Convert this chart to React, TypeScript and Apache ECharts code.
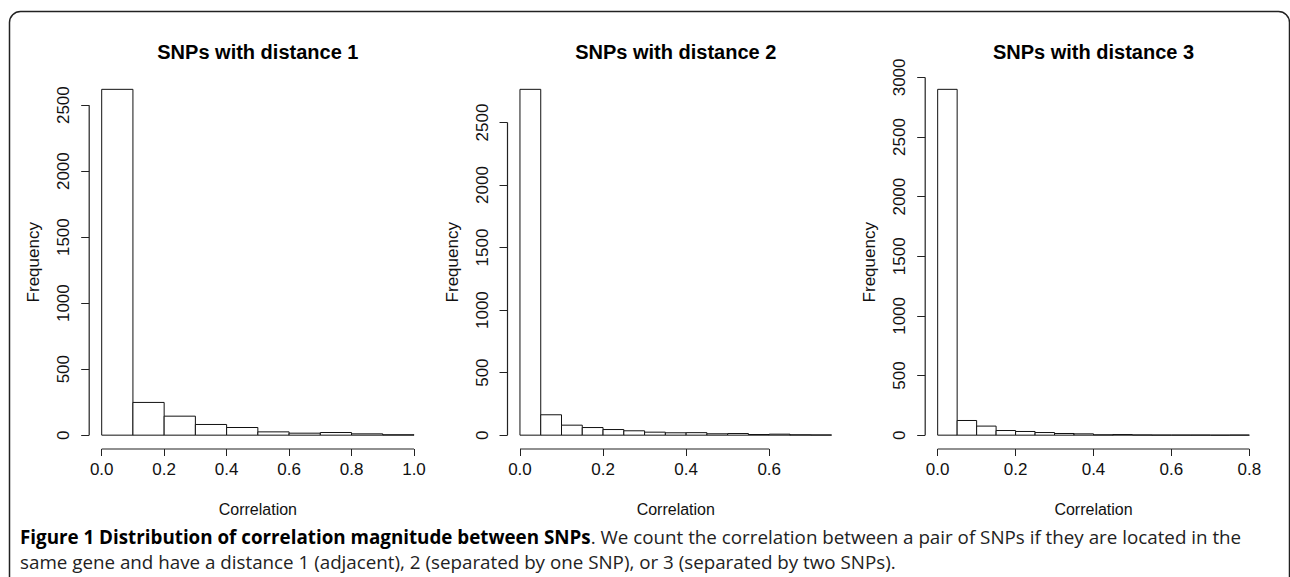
import React, { useEffect, useRef } from "react";
import * as echarts from "echarts";

// ---- data ----
const panelTitles = ["SNPs with distance 1", "SNPs with distance 2", "SNPs with distance 3"];
const binWidths = [0.1, 0.05, 0.05];
const counts1 = [2620, 248, 144, 81, 58, 25, 15, 20, 10, 3];
const counts2 = [2765, 163, 80, 61, 45, 35, 24, 19, 20, 11, 13, 5, 8, 3, 2];
const counts3 = [2900, 123, 76, 39, 31, 22, 14, 11, 3, 5, 2, 1, 1, 1, 0, 1];
const xTicks1 = [0, 0.2, 0.4, 0.6, 0.8, 1.0];
const xTicks2 = [0, 0.2, 0.4, 0.6];
const xTicks3 = [0, 0.2, 0.4, 0.6, 0.8];
const yTicks1 = [0, 500, 1000, 1500, 2000, 2500];
const yTicks2 = [0, 500, 1000, 1500, 2000, 2500];
const yTicks3 = [0, 500, 1000, 1500, 2000, 2500, 3000];
const xAxisName = "Correlation";
const yAxisName = "Frequency";
const captionBold = "Figure 1 Distribution of correlation magnitude between SNPs";
const captionRest1 = ". We count the correlation between a pair of SNPs if they are located in the";
const captionLine2 = "same gene and have a distance 1 (adjacent), 2 (separated by one SNP), or 3 (separated by two SNPs).";

const allCounts = [counts1, counts2, counts3];
const allXTicks = [xTicks1, xTicks2, xTicks3];
const allYTicks = [yTicks1, yTicks2, yTicks3];

// ---- layout ----
const W = 1290;
const H = 577;
const gridLefts = [89.2, 507.5, 925.2];
const gridRights = [426.5, 844, 1261.8];
const gridTop = 75.5;
const gridBottom = 449;
const FONT = "'Liberation Sans', Arial, Helvetica, sans-serif";
const CAPFONT = "'Open Sans', 'Noto Sans', sans-serif";

export default function App() {
  const ref = useRef<HTMLDivElement>(null);

  useEffect(() => {
    if (!ref.current) return;
    const chart = echarts.init(ref.current, null, { renderer: "svg" });

    const grids: any[] = [];
    const xAxes: any[] = [];
    const yAxes: any[] = [];
    const series: any[] = [];
    const graphics: any[] = [];

    for (let i = 0; i < 3; i++) {
      const counts = allCounts[i];
      const bw = binWidths[i];
      const xTicks = allXTicks[i];
      const yTicks = allYTicks[i];
      const xDataMax = counts.length * bw;
      const yDataMax = Math.max(...counts);
      const xMin = -0.04 * xDataMax;
      const xMax = 1.04 * xDataMax;
      const yMin = -0.04 * yDataMax;
      const yMax = 1.04 * yDataMax;

      grids.push({
        left: gridLefts[i],
        top: gridTop,
        width: gridRights[i] - gridLefts[i],
        height: gridBottom - gridTop,
        containLabel: false,
      });

      xAxes.push({
        type: "value",
        gridIndex: i,
        position: "bottom",
        min: xMin,
        max: xMax,
        axisLine: { show: false, onZero: false },
        splitLine: { show: false },
        axisTick: {
          show: true,
          customValues: xTicks,
          length: 7,
          lineStyle: { color: "#222", width: 1 },
        },
        axisLabel: {
          customValues: xTicks,
          formatter: (v: number) => v.toFixed(1),
          fontFamily: FONT,
          fontSize: 17,
          color: "#111",
          margin: 12,
        },
        name: xAxisName,
        nameLocation: "middle",
        nameGap: 52,
        nameTextStyle: { fontFamily: FONT, fontSize: 16, color: "#111" },
      });

      yAxes.push({
        type: "value",
        gridIndex: i,
        position: "left",
        min: yMin,
        max: yMax,
        axisLine: { show: false, onZero: false },
        splitLine: { show: false },
        axisTick: {
          show: true,
          customValues: yTicks,
          length: 8,
          lineStyle: { color: "#222", width: 1 },
        },
        axisLabel: {
          customValues: yTicks,
          formatter: (v: number) => String(v),
          rotate: 90,
          fontFamily: FONT,
          fontSize: 17,
          color: "#111",
          margin: 17,
        },
        name: yAxisName,
        nameLocation: "middle",
        nameGap: 47,
        nameRotate: 90,
        nameTextStyle: { fontFamily: FONT, fontSize: 17, color: "#111" },
      });

      // histogram bars
      series.push({
        type: "custom",
        xAxisIndex: i,
        yAxisIndex: i,
        silent: true,
        data: counts.map((c, j) => [j * bw, (j + 1) * bw, c]),
        encode: { x: [0, 1], y: 2 },
        renderItem: (params: any, api: any) => {
          const p0 = api.coord([api.value(0), api.value(2)]);
          const p1 = api.coord([api.value(1), 0]);
          return {
            type: "rect",
            shape: { x: p0[0], y: p0[1], width: p1[0] - p0[0], height: p1[1] - p0[1] },
            style: { fill: "#fff", stroke: "#111", lineWidth: 1 },
          };
        },
      });

      // R-style axis lines (first to last tick)
      const xFirst = xTicks[0];
      const xLast = xTicks[xTicks.length - 1];
      const yFirst = yTicks[0];
      const yLast = yTicks[yTicks.length - 1];
      series.push({
        type: "custom",
        xAxisIndex: i,
        yAxisIndex: i,
        silent: true,
        clip: false,
        data: [[0]],
        renderItem: (params: any, api: any) => {
          const a0 = api.coord([xFirst, yMin]);
          const a1 = api.coord([xLast, yMin]);
          const b0 = api.coord([xMin, yFirst]);
          const b1 = api.coord([xMin, yLast]);
          return {
            type: "group",
            children: [
              {
                type: "line",
                shape: { x1: a0[0], y1: a0[1], x2: a1[0], y2: a1[1] },
                style: { stroke: "#222", lineWidth: 1.2 },
              },
              {
                type: "line",
                shape: { x1: b0[0], y1: b0[1], x2: b1[0], y2: b1[1] },
                style: { stroke: "#222", lineWidth: 1.2 },
              },
            ],
          };
        },
      });

      graphics.push({
        type: "text",
        x: (gridLefts[i] + gridRights[i]) / 2,
        y: 52,
        style: {
          text: panelTitles[i],
          font: `bold 20px ${FONT}`,
          fill: "#000",
          align: "center",
          verticalAlign: "middle",
        },
      });
    }

    // outer frame
    graphics.unshift({
      type: "rect",
      shape: { x: 9.5, y: 11.5, width: 1280, height: 640, r: 11 },
      style: { fill: "none", stroke: "#222", lineWidth: 1.5 },
      silent: true,
    });

    // caption
    graphics.push({
      type: "text",
      x: 20,
      y: 537,
      style: {
        text: `{b|${captionBold}}{r|${captionRest1}}`,
        verticalAlign: "middle",
        rich: {
          b: { font: `bold 18.8px ${CAPFONT}`, fill: "#000", lineHeight: 22 },
          r: { font: `18.8px ${CAPFONT}`, fill: "#222", lineHeight: 22 },
        },
      },
    });
    graphics.push({
      type: "text",
      x: 20,
      y: 562,
      style: {
        text: captionLine2,
        font: `18.8px ${CAPFONT}`,
        fill: "#222",
        lineHeight: 22,
        verticalAlign: "middle",
      },
    });

    chart.setOption({
      animation: false,
      backgroundColor: "#fff",
      grid: grids,
      xAxis: xAxes,
      yAxis: yAxes,
      series,
      graphic: graphics,
    });

    return () => chart.dispose();
  }, []);

  return (
    <div
      ref={ref}
      style={{ position: "fixed", left: 0, top: 0, width: W, height: H, background: "#fff" }}
    />
  );
}
